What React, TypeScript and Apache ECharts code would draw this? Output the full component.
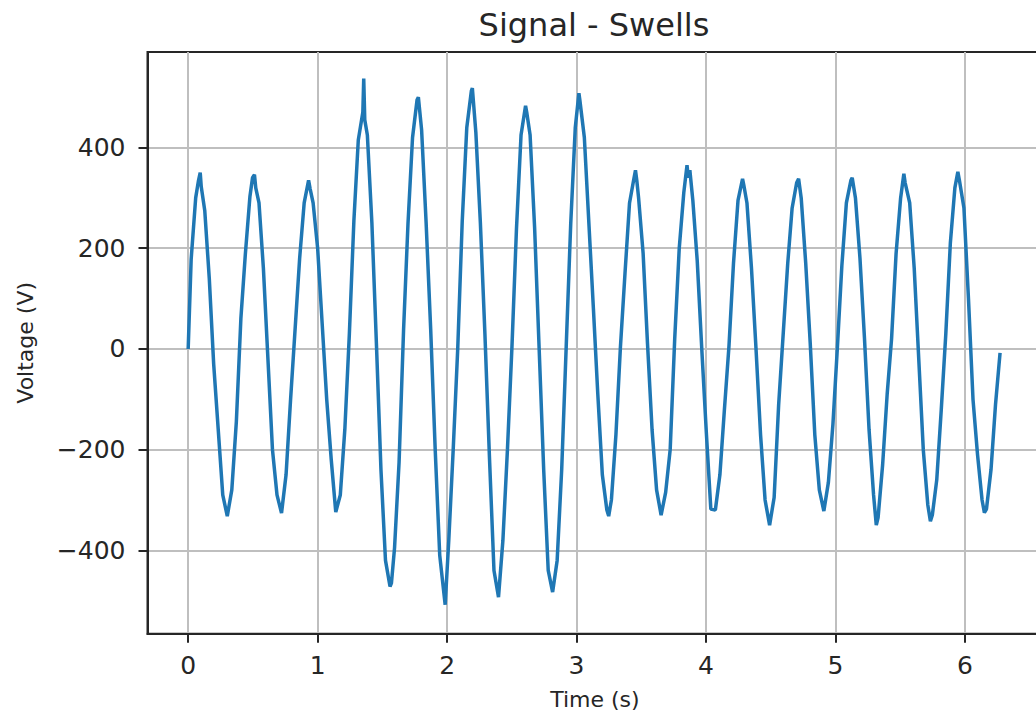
import React, { useEffect, useRef } from "react";
import * as echarts from "echarts";

const TITLE = "Signal - Swells";
const X_NAME = "Time (s)";
const Y_NAME = "Voltage (V)";
const X_TICKS = [0, 1, 2, 3, 4, 5, 6];
const Y_TICKS = [-400, -200, 0, 200, 400];

const time = [
  0.0, 0.023, 0.058, 0.08, 0.093, 0.101, 0.128, 0.163, 0.197, 0.232, 0.267, 0.302, 0.337, 0.372, 0.407, 0.442,
  0.477, 0.497, 0.512, 0.522, 0.547, 0.581, 0.616, 0.651, 0.686, 0.721, 0.756, 0.791, 0.826, 0.861, 0.896, 0.93,
  0.942, 0.965, 1.0, 1.035, 1.07, 1.105, 1.14, 1.175, 1.21, 1.245, 1.28, 1.314, 1.349, 1.356, 1.364, 1.384,
  1.419, 1.454, 1.489, 1.524, 1.559, 1.57, 1.594, 1.629, 1.664, 1.698, 1.733, 1.768, 1.778, 1.803, 1.838, 1.873,
  1.908, 1.943, 1.978, 1.985, 2.013, 2.047, 2.082, 2.117, 2.152, 2.187, 2.195, 2.222, 2.257, 2.292, 2.327, 2.362,
  2.397, 2.431, 2.466, 2.501, 2.536, 2.571, 2.606, 2.615, 2.641, 2.676, 2.711, 2.746, 2.781, 2.815, 2.85, 2.885,
  2.92, 2.955, 2.99, 3.018, 3.025, 3.06, 3.095, 3.13, 3.164, 3.199, 3.234, 3.248, 3.269, 3.304, 3.339, 3.374,
  3.409, 3.444, 3.455, 3.465, 3.479, 3.514, 3.548, 3.583, 3.618, 3.653, 3.688, 3.723, 3.758, 3.793, 3.828, 3.853,
  3.863, 3.875, 3.898, 3.932, 3.967, 4.002, 4.037, 4.072, 4.107, 4.142, 4.177, 4.212, 4.247, 4.282, 4.292, 4.316,
  4.351, 4.386, 4.421, 4.456, 4.491, 4.526, 4.561, 4.596, 4.631, 4.665, 4.7, 4.715, 4.735, 4.77, 4.805, 4.84,
  4.875, 4.91, 4.945, 4.98, 5.015, 5.049, 5.084, 5.119, 5.129, 5.154, 5.189, 5.224, 5.259, 5.294, 5.315, 5.329,
  5.364, 5.399, 5.433, 5.468, 5.503, 5.528, 5.538, 5.573, 5.608, 5.643, 5.678, 5.713, 5.733, 5.748, 5.782, 5.817,
  5.852, 5.887, 5.922, 5.945, 5.957, 5.992, 6.027, 6.062, 6.097, 6.132, 6.15, 6.166, 6.201, 6.236, 6.271,
];

const voltage = [
  0, 178, 300, 335, 350, 322, 275, 140, -30, -160, -290, -332, -280, -145, 60, 190,
  303, 340, 346, 320, 290, 160, -20, -200, -290, -326, -250, -100, 40, 180, 290, 335,
  318, 290, 200, 50, -100, -220, -324, -290, -160, 30, 255, 415, 470, 537, 455, 425,
  250, 10, -240, -420, -472, -465, -395, -225, 40, 250, 420, 495, 500, 435, 250, 40,
  -200, -410, -492, -508, -380, -200, 0, 255, 440, 512, 518, 430, 250, 30, -215, -440,
  -493, -380, -200, 5, 240, 425, 483, 470, 425, 240, 0, -240, -440, -483, -420, -240,
  5, 250, 440, 508, 495, 420, 250, 80, -90, -250, -320, -332, -300, -170, 5, 150,
  290, 340, 355, 335, 300, 190, 10, -160, -280, -330, -285, -200, 20, 200, 310, 365,
  340, 355, 295, 175, 0, -165, -318, -320, -250, -120, 5, 170, 295, 338, 325, 290,
  160, 0, -170, -300, -350, -295, -110, 30, 170, 280, 330, 338, 300, 170, 10, -170,
  -280, -322, -265, -150, 5, 165, 290, 335, 340, 300, 180, 20, -160, -290, -350, -335,
  -230, -90, 20, 190, 300, 348, 330, 290, 160, -20, -200, -310, -342, -330, -260, -120,
  30, 210, 320, 352, 335, 280, 100, -100, -210, -300, -325, -318, -240, -110, -8,
];

const FONT = "'DejaVu Sans', sans-serif";
const INK = "#262626";

const fmtNum = (v: number) => (v < 0 ? "\u2212" + Math.abs(v) : String(v));

export default function App() {
  const ref = useRef<HTMLDivElement>(null);
  useEffect(() => {
    if (!ref.current) return;
    const chart = echarts.init(ref.current, undefined, { renderer: "svg" });
    const data = time.map((t, i) => [t, voltage[i]]);
    chart.setOption({
      animation: false,
      backgroundColor: "#ffffff",
      title: {
        text: TITLE,
        left: 589,
        top: 4,
        textAlign: "center",
        textStyle: { fontFamily: FONT, fontSize: 32, fontWeight: "normal", color: INK },
      },
      grid: {
        left: 147.5,
        top: 52,
        right: 0.7,
        bottom: 85.3,
        show: true,
        borderColor: INK,
        borderWidth: 2,
        containLabel: false,
      },
      xAxis: {
        type: "value",
        min: -0.3142,
        max: 6.5973,
        minInterval: 1,
        maxInterval: 1,
        name: X_NAME,
        nameLocation: "middle",
        nameGap: 55,
        nameTextStyle: { fontFamily: FONT, fontSize: 22, color: INK },
        axisLine: { show: true, onZero: false, lineStyle: { color: INK, width: 2 } },
        axisTick: { show: true, length: 9, customValues: X_TICKS, lineStyle: { color: INK, width: 2 } },
        axisLabel: {
          show: true,
          customValues: X_TICKS,
          margin: 19,
          fontFamily: FONT,
          fontSize: 25,
          color: INK,
          formatter: (v: number) => (Math.abs(v - Math.round(v)) < 1e-6 ? fmtNum(Math.round(v)) : ""),
        },
        splitLine: { show: true, lineStyle: { color: "#bfbfbf", width: 2 } },
      },
      yAxis: {
        type: "value",
        min: -565.6,
        max: 589.8,
        minInterval: 200,
        maxInterval: 200,
        name: Y_NAME,
        nameLocation: "middle",
        nameGap: 111,
        nameRotate: 90,
        nameTextStyle: { fontFamily: FONT, fontSize: 22, color: INK },
        axisLine: { show: true, onZero: false, lineStyle: { color: INK, width: 2 } },
        axisTick: { show: true, length: 9, customValues: Y_TICKS, lineStyle: { color: INK, width: 2 } },
        axisLabel: {
          show: true,
          customValues: Y_TICKS,
          margin: 22,
          fontFamily: FONT,
          fontSize: 25,
          color: INK,
          formatter: (v: number) => (Math.abs(v % 200) < 1e-6 ? fmtNum(Math.round(v)) : ""),
        },
        splitLine: { show: true, lineStyle: { color: "#bfbfbf", width: 2 } },
      },
      series: [
        {
          type: "line",
          data,
          showSymbol: false,
          symbol: "none",
          lineStyle: { color: "#1f77b4", width: 3.5 },
          itemStyle: { color: "#1f77b4" },
        },
      ],
    });
    return () => chart.dispose();
  }, []);
  return (
    <div
      ref={ref}
      style={{ position: "fixed", left: 0, top: 0, width: 1043, height: 719, background: "#fff" }}
    />
  );
}
